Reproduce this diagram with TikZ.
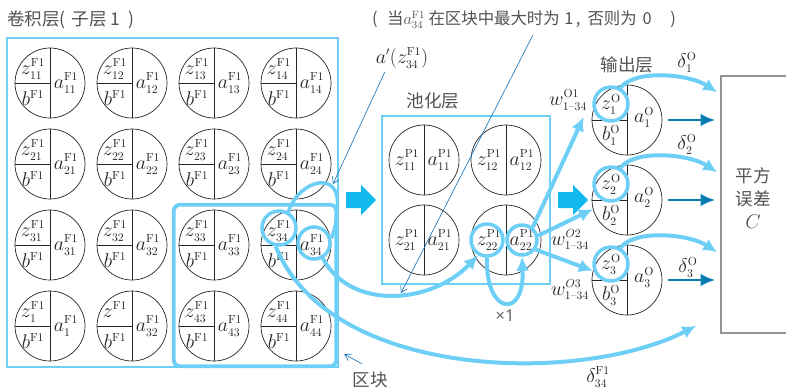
\RequirePackage{fix-cm}
\documentclass[tikz,border=0pt]{standalone}
\usepackage{amsmath}
\usepackage{fontspec}
\newfontfamily\cjk{Noto Sans CJK SC}
\newfontfamily\latinsans{Noto Sans}
\DeclareMathSizes{17}{17}{10}{8}
\DeclareMathSizes{14}{14}{9}{7}
\usetikzlibrary{arrows.meta,positioning,calc,fit}
\definecolor{sky}{HTML}{6DCFF6}
\definecolor{vivid}{HTML}{12B8EE}
\definecolor{sea}{HTML}{0A7BB3}
\definecolor{pen}{HTML}{1B75BB}
\begin{document}
\begin{tikzpicture}[x=0.03cm,y=-0.03cm,
  neuron/.style={draw=black!85,circle,minimum size=2.1cm,inner sep=0pt,line width=.6pt},
  lbl/.style={inner sep=0pt,text=black!85,font=\fontsize{17}{19}\selectfont},
  cn/.style={inner sep=0pt,text=black!68,font=\cjk\fontsize{15}{20}\selectfont},
  layerframe/.style={draw=sky,line width=1.3pt},
  ring/.style={draw=sky,circle,line width=3pt,inner sep=0pt},
  flow/.style={draw=sky,line width=3.4pt,-{Latex[length=4.2mm,width=4mm]}},
  sigarrow/.style={draw=sea,line width=2.4pt,-{Latex[length=4.4mm,width=3.8mm]}},
  note/.style={draw=pen,line width=.55pt,-{Straight Barb[length=1.8mm,width=2.2mm]}}]
\useasboundingbox (0,0) rectangle (786,388);
% texts
\node[cn,anchor=west] (convtitle) at (7,20) {卷积层(\hspace{5pt}子层\hspace{3pt}1\hspace{7pt})};
\node[cn,anchor=west,font=\cjk\fontsize{14}{17}\selectfont] (maxnote) at (372,20) {(\hspace{8pt}当{\fontsize{14}{16}\selectfont$a^{\mathrm{F1}}_{34}$}\hspace{3pt}在区块中最大时为\hspace{4pt}1\hspace{2pt},\hspace{6pt}否则为\hspace{5pt}0\hspace{16pt})};
\node[lbl] (aprime) at (402,58) {$a'(z^{\mathrm{F1}}_{34})$};
\node[cn] (pooltitle) at (433,101) {池化层};
\node[cn] (outtitle) at (627,65) {输出层};
% convolution layer
\draw[layerframe] (7,38) rectangle (338,367);
\foreach \r in {1,2,3} {
  \foreach \c in {1,...,4} {
    \node[neuron] (conv\r\c) at ({50+82*(\c-1)},{83+81*(\r-1)}) {};
    \draw[black!85,line width=.6pt] (conv\r\c.north)--(conv\r\c.south) (conv\r\c.west)--(conv\r\c.center);
    \node[lbl] at ($(conv\r\c)+(-17,-14)$) {$z^{\mathrm{F1}}_{\r\c}$};
    \node[lbl] at ($(conv\r\c)+(-17,15)$) {$b^{\mathrm{F1}}$};
    \node[lbl] at ($(conv\r\c)+(16,0)$) {$a^{\mathrm{F1}}_{\r\c}$};
  }
}
\foreach \c/\zs/\as in {1/1/1,2//32,3/43/43,4/44/44} {
  \node[neuron] (conv4\c) at ({50+82*(\c-1)},326) {};
  \draw[black!85,line width=.6pt] (conv4\c.north)--(conv4\c.south) (conv4\c.west)--(conv4\c.center);
  \node[lbl] at ($(conv4\c)+(-17,-14)$) {$z^{\mathrm{F1}}_{\zs}$};
  \node[lbl] at ($(conv4\c)+(-17,15)$) {$b^{\mathrm{F1}}$};
  \node[lbl] at ($(conv4\c)+(16,0)$) {$a^{\mathrm{F1}}_{\as}$};
}
\node[draw=sky,line width=3.2pt,rounded corners=.2cm,inner sep=.15cm,fit=(conv33)(conv44)] (block) {};
\node[cn] (blocklbl) at (370,380) {区块};
% pooling layer
\draw[layerframe] (382,116) rectangle (550,284);
\foreach \r/\y in {1/160,2/240} {
  \foreach \c/\x in {1/424,2/506} {
    \node[neuron] (pool\r\c) at (\x,\y) {};
    \draw[black!85,line width=.6pt] (pool\r\c.north)--(pool\r\c.south);
    \node[lbl] at ($(pool\r\c)+(-17,0)$) {$z^{\mathrm{P1}}_{\r\c}$};
    \node[lbl] at ($(pool\r\c)+(16,0)$) {$a^{\mathrm{P1}}_{\r\c}$};
  }
}
% output layer
\foreach \i in {1,2,3} {
  \node[neuron] (out\i) at (627,{120+80*(\i-1)}) {};
  \draw[black!85,line width=.6pt] (out\i.north)--(out\i.south) (out\i.west)--(out\i.center);
  \node[lbl] at ($(out\i)+(-16,-16)$) {$z^{\mathrm{O}}_{\i}$};
  \node[lbl] at ($(out\i)+(-16,15)$) {$b^{\mathrm{O}}_{\i}$};
  \node[lbl] at ($(out\i)+(17,-3)$) {$a^{\mathrm{O}}_{\i}$};
}
% squared error
\node[draw=black!42,line width=1.3pt,minimum width=2.37cm,minimum height=7.71cm,inner sep=0pt] (err) at (760.5,204.5) {};
\node[cn,align=center] (errtxt) at (753,198) {平方\\误差\\{\fontsize{17}{19}\selectfont$C$}};
% layer arrows
\foreach \x in {346,558}
  \fill[vivid] (\x,192) -- ({\x+15},192) -- ({\x+15},185) -- ({\x+30},200) -- ({\x+15},215) -- ({\x+15},208) -- (\x,208) -- cycle;
% highlighted units
\node[ring,minimum size=1.02cm] (zl34) at ($(conv34)+(-17,-17)$) {};
\node[ring,minimum size=.96cm] (al34) at ($(conv34)+(18,-2)$) {};
\node[ring,minimum size=.96cm] (pz22) at ($(pool22)+(-19,0)$) {};
\node[ring,minimum size=.9cm] (pa22) at ($(pool22)+(16,0)$) {};
\draw[sky,line width=3pt] (zl34.60) .. controls (300,178) and (342,170) .. (337,208) .. controls (337,222) and (334,232) .. (al34.15);
\draw[flow] (al34.-60) .. controls (350,310) and (430,305) .. (pz22.-120);
\draw[flow] (pz22.-90) .. controls (485,315) and (525,320) .. (pa22.-90);
\draw[flow] (zl34.-100) .. controls (330,380) and (580,385) .. ($(err.south west)+(-24,-8)$);
\draw[flow] (pa22.50) -- ($(out1.west)+(-8,-3)$);
\draw[flow] (pa22.15) -- (out2.195);
\draw[flow] (pa22.-35) -- (out3.165);
\foreach \i in {1,2,3} {
  \node[ring,minimum size=1.02cm] (oz\i) at ($(out\i)+(-16,-16)$) {};
  \draw[flow] (oz\i.60) .. controls +(15,-19) and +(-28,-18) .. ($(err.north west)+(-3,{17+80*(\i-1)})$);
  \draw[sigarrow,shorten <=1.8mm,shorten >=1.5mm] (out\i.east) -- (err.west |- out\i.east);
}
% weights and deltas
\node[lbl] (w1) at (568,100) {$w^{\mathrm{O1}}_{\text{1--34}}$};
\node[lbl] (w2) at (570,240) {$w^{O2}_{\text{1--34}}$};
\node[lbl] (w3) at (570,290) {$w^{O3}_{\text{1--34}}$};
\node[lbl] (d1) at (687,62) {$\delta^{\mathrm{O}}_1$};
\node[lbl] (d2) at (687,144) {$\delta^{\mathrm{O}}_2$};
\node[lbl] (d3) at (688,267) {$\delta^{\mathrm{O}}_3$};
\node[lbl] (d34) at (598,377) {$\delta^{\mathrm{F1}}_{34}$};
\node[inner sep=0pt,text=black!60,font=\latinsans\fontsize{14}{16}\selectfont] (times) at (505,316) {×1};
% annotations
\coordinate (apeak) at (333,184);
\coordinate (maxfrom) at (533,35);
\coordinate (maxto) at (401,293);
\draw[note] ($(aprime.south west)+(9,4)$) -- (apeak);
\draw[note] (maxfrom) -- (maxto);
\draw[note] ($(blocklbl.north)+(-8,-8)$) -- ($(block.south east)+(6,-14)$);
\end{tikzpicture}
\end{document}
